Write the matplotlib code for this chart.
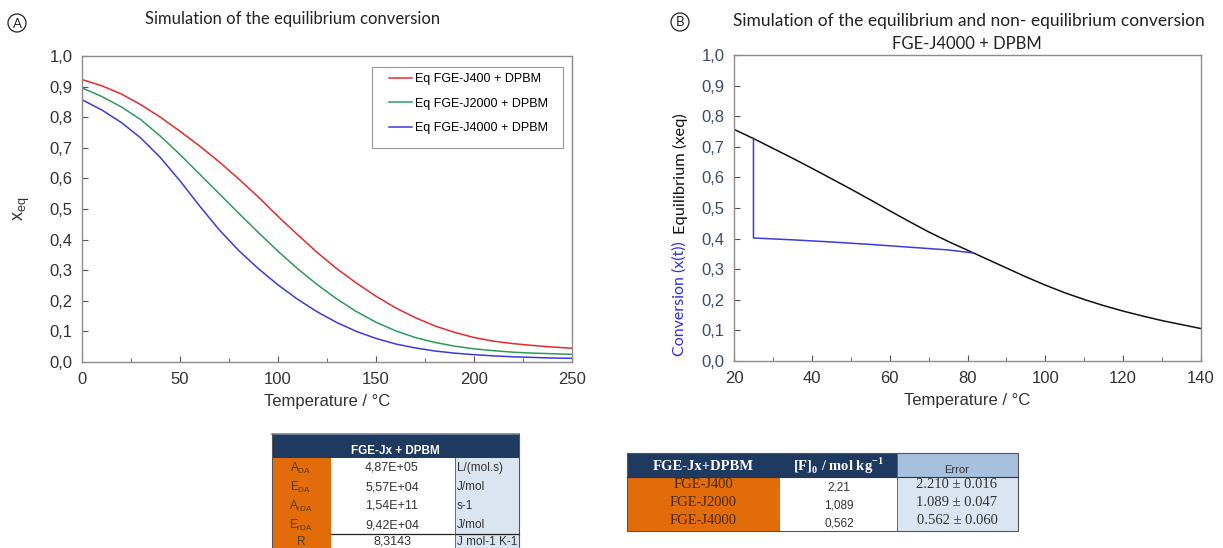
import matplotlib
matplotlib.use("Agg")
import matplotlib.pyplot as plt
from matplotlib.patches import Rectangle, Circle
from matplotlib.ticker import MultipleLocator, FuncFormatter

# ---------------- data ----------------
temp_a = [0, 10, 20, 30, 40, 50, 60, 70, 80, 90, 100, 110, 120, 130, 140, 150,
          160, 170, 180, 190, 200, 210, 220, 230, 240, 250]
xeq_j400 = [0.923, 0.903, 0.876, 0.841, 0.800, 0.754, 0.706, 0.654, 0.598, 0.539,
            0.476, 0.416, 0.358, 0.305, 0.258, 0.215, 0.177, 0.145, 0.118, 0.097,
            0.080, 0.068, 0.060, 0.054, 0.049, 0.045]
xeq_j2000 = [0.896, 0.868, 0.834, 0.792, 0.738, 0.678, 0.614, 0.550, 0.486, 0.423,
             0.362, 0.305, 0.253, 0.206, 0.165, 0.130, 0.102, 0.080, 0.064, 0.052,
             0.043, 0.037, 0.032, 0.029, 0.027, 0.025]
xeq_j4000 = [0.857, 0.824, 0.783, 0.732, 0.668, 0.592, 0.510, 0.432, 0.364, 0.305,
             0.252, 0.205, 0.164, 0.129, 0.100, 0.077, 0.059, 0.046, 0.036, 0.029,
             0.024, 0.020, 0.017, 0.015, 0.013, 0.012]
labels_a = ["Eq FGE-J400 + DPBM", "Eq FGE-J2000 + DPBM", "Eq FGE-J4000 + DPBM"]

temp_b_eq = [20, 25, 30, 35, 40, 45, 50, 55, 60, 65, 70, 75, 80, 85, 90, 95, 100,
             105, 110, 115, 120, 125, 130, 135, 140]
xeq_b = [0.757, 0.727, 0.695, 0.663, 0.630, 0.596, 0.562, 0.527, 0.491, 0.456,
         0.422, 0.391, 0.362, 0.333, 0.304, 0.275, 0.248, 0.223, 0.201, 0.181,
         0.163, 0.147, 0.132, 0.119, 0.106]
temp_b_conv = [25, 25, 35, 45, 55, 65, 75, 81.5]
conv_b = [0.725, 0.402, 0.396, 0.389, 0.381, 0.372, 0.363, 0.353]

table1_header = "FGE-Jx + DPBM"
table1_params = [r"A$_{\mathregular{DA}}$", r"E$_{\mathregular{DA}}$",
                 r"A$_{\mathregular{rDA}}$", r"E$_{\mathregular{rDA}}$", "R"]
table1_values = ["4,87E+05", "5,57E+04", "1,54E+11", "9,42E+04", "8,3143"]
table1_units = ["L/(mol.s)", "J/mol", "s-1", "J/mol", "J mol-1 K-1"]

table2_headers = ["FGE-Jx+DPBM", r"[F]$_{\mathregular{0}}$ / mol kg$^{\mathregular{-1}}$", "Error"]
table2_names = ["FGE-J400", "FGE-J2000", "FGE-J4000"]
table2_f0 = ["2,21", "1,089", "0,562"]
table2_err = ["2.210 \u00b1 0.016", "1.089 \u00b1 0.047", "0.562 \u00b1 0.060"]

# ---------------- styling ----------------
W, H = 1223, 548
fig = plt.figure(figsize=(W / 100, H / 100), dpi=100)
fig.patch.set_facecolor("white")
SANS = ["Liberation Sans", "DejaVu Sans"]
TITLE = ["Lato", "DejaVu Sans"]
SERIF = ["Liberation Serif", "DejaVu Serif"]
plt.rcParams["font.family"] = SANS
plt.rcParams["mathtext.fontset"] = "custom"
plt.rcParams["mathtext.rm"] = "Liberation Sans"

FRAME = "#8c8c8c"
TICK_COL = "#333333"
comma = FuncFormatter(lambda v, p: f"{v:.1f}".replace(".", ","))


def px_axes(x0, y0, x1, y1):
    return fig.add_axes([x0 / W, 1 - y1 / H, (x1 - x0) / W, (y1 - y0) / H])


def style(ax):
    for s in ax.spines.values():
        s.set_color(FRAME)
        s.set_linewidth(1.0)
    ax.tick_params(which="both", direction="in", color="#555555", labelsize=12,
                   labelcolor=TICK_COL)
    ax.tick_params(which="major", length=4, pad=7)
    ax.tick_params(which="minor", length=3)


# ---------------- panel A ----------------
axA = px_axes(82, 56, 572, 362)
style(axA)
axA.plot(temp_a, xeq_j400, color="#e8292b", lw=1.1, label=labels_a[0])
axA.plot(temp_a, xeq_j2000, color="#2e9a5a", lw=1.1, label=labels_a[1])
axA.plot(temp_a, xeq_j4000, color="#3b3bdb", lw=1.1, label=labels_a[2])
axA.set_xlim(0, 250)
axA.set_ylim(0, 1.0)
axA.xaxis.set_major_locator(MultipleLocator(50))
axA.xaxis.set_minor_locator(MultipleLocator(25))
axA.yaxis.set_major_locator(MultipleLocator(0.1))
axA.yaxis.set_major_formatter(comma)
axA.set_xlabel("Temperature / \u00b0C", fontsize=12, color="#333333", labelpad=5)
axA.set_ylabel(r"$\mathregular{x_{eq}}$", fontsize=13, color="#333333", labelpad=12)
leg = axA.legend(loc="upper left", bbox_to_anchor=((389 - 82) / 490, (362 - 73) / 306),
                 fontsize=9, frameon=False, handlelength=1.85, handletextpad=0.2,
                 labelspacing=1.0, borderpad=0, borderaxespad=0)

# ---------------- panel B ----------------
axB = px_axes(734, 55, 1201, 361)
style(axB)
axB.tick_params(axis="y", labelcolor="#3d4a70")
axB.plot(temp_b_eq, xeq_b, color="#111111", lw=1.1)
axB.plot(temp_b_conv, conv_b, color="#3b3bdb", lw=1.1)
axB.set_xlim(20, 140)
axB.set_ylim(0, 1.0)
axB.xaxis.set_major_locator(MultipleLocator(20))
axB.xaxis.set_minor_locator(MultipleLocator(10))
axB.yaxis.set_major_locator(MultipleLocator(0.1))
axB.yaxis.set_major_formatter(comma)
axB.set_xlabel("Temperature / \u00b0C", fontsize=12, color="#333333", labelpad=5)

# ---------------- overlay (titles, labels, tables) ----------------
ov = fig.add_axes([0, 0, 1, 1])
ov.set_xlim(0, W)
ov.set_ylim(H, 0)
ov.axis("off")
ov.patch.set_alpha(0)

# legend frame of panel A
ov.add_patch(Rectangle((372, 67), 191, 81, fill=False, ec="#999999", lw=0.8))

ov.text(293, 19, "Simulation of the equilibrium conversion", family=TITLE,
        fontsize=12, ha="center", va="center", color="#222222")
ov.text(969, 21, "Simulation of the equilibrium and non- equilibrium conversion",
        family=TITLE, fontsize=12.5, ha="center", va="center", color="#222222")
ov.text(967, 44, "FGE-J4000 + DPBM", family=TITLE, fontsize=12, ha="center",
        va="center", color="#222222")
for cx, cy, letter in [(17, 23, "A"), (680, 22, "B")]:
    ov.add_patch(Circle((cx, cy), 9, fill=False, ec="#222222", lw=0.9))
    ov.text(cx, cy + 0.5, letter, family=TITLE, fontsize=9.5, ha="center",
            va="center", color="#222222")

# two-coloured y label of panel B
t1 = ov.text(680, 356, "Conversion (x(t))", family=TITLE, fontsize=11.5,
             rotation=90, ha="center", va="bottom", color="#3030e0")
fig.canvas.draw()
bb = t1.get_window_extent().transformed(ov.transData.inverted())
top1 = min(bb.y0, bb.y1)
ov.text(680, top1 - 7, "Equilibrium (xeq)", family=TITLE, fontsize=11.8,
        rotation=90, ha="center", va="bottom", color="#111111")

NAVY = "#1f3a60"
ORANGE = "#e36c0a"
LBLUE = "#dbe5f1"
HBLUE = "#a7c0de"


def rect(x0, y0, x1, y1, fc, ec="none", lw=0.0):
    ov.add_patch(Rectangle((x0, y0), x1 - x0, y1 - y0, fc=fc, ec=ec, lw=lw))


# table 1
rect(272, 434, 519, 458, NAVY)
rect(272, 458, 331, 549, ORANGE)
rect(331, 458, 455, 549, "white")
rect(455, 458, 519, 549, LBLUE)
ov.plot([272, 519], [434, 434], color="#7a8aa0", lw=1.2)
ov.plot([272, 272], [434, 549], color="#555555", lw=0.8)
ov.plot([519, 519], [434, 549], color="#555555", lw=0.8)
ov.plot([331, 519], [534, 534], color="#222222", lw=0.9)
ov.plot([455, 455], [458, 549], color="#555555", lw=0.6)
ov.text(395, 451, table1_header, fontsize=8.5, fontweight="bold", color="white",
        ha="center", va="center")
row_y1 = [468, 487, 506, 525, 542]
for y, p, v, u in zip(row_y1, table1_params, table1_values, table1_units):
    ov.text(301, y, p, fontsize=8.5, color="#5a3a1a", ha="center", va="center")
    ov.text(392, y, v, fontsize=9, color="#333333", ha="center", va="center")
    ov.text(457, y, u, fontsize=8.5, color="#333333", ha="left", va="center")

# table 2
rect(627, 453, 780, 477, NAVY)
rect(780, 453, 897, 477, NAVY)
rect(897, 453, 1018, 477, HBLUE)
rect(627, 477, 780, 531, ORANGE)
rect(780, 477, 897, 531, "white")
rect(897, 477, 1018, 531, LBLUE)
ov.add_patch(Rectangle((627, 453), 391, 78, fill=False, ec="#555555", lw=0.8))
ov.plot([627, 1018], [477, 477], color="#333333", lw=0.8)
ov.plot([897, 897], [453, 531], color="#555555", lw=0.6)
ov.text(703, 466, table2_headers[0], family=SERIF, fontsize=10.5, fontweight="bold",
        color="white", ha="center", va="center")
ov.text(839, 466, table2_headers[1], family=SERIF, fontsize=10.5, fontweight="bold",
        color="white", ha="center", va="center")
ov.text(957, 470, table2_headers[2], fontsize=8, color="#333333", ha="center",
        va="center")
row_y2 = [484, 502, 521]
for i, (n, f0, e) in enumerate(zip(table2_names, table2_f0, table2_err)):
    ov.text(703, row_y2[i], n, family=SERIF, fontsize=10.5, color="#4a2a0a",
            ha="center", va="center")
    ov.text(839, row_y2[i] + 3, f0, fontsize=8.5, color="#333333", ha="center",
            va="center")
    ov.text(957, row_y2[i], e, family=SERIF, fontsize=10.5, color="#333333",
            ha="center", va="center")

fig.savefig("out.png", dpi=100)
